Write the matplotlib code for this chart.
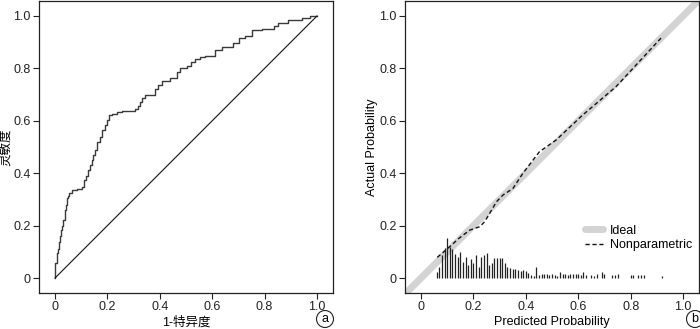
import numpy as np
import matplotlib
matplotlib.use("Agg")
import matplotlib.pyplot as plt

plt.rcParams['font.family'] = ['Liberation Sans', 'Noto Sans CJK SC', 'DejaVu Sans']
plt.rcParams['font.size'] = 9

# ROC curve corners (1 - specificity, sensitivity)
fpr = [0.000, 0.000, 0.006, 0.010, 0.015, 0.020, 0.023, 0.028, 0.032, 0.038,
       0.042, 0.045, 0.050, 0.054, 0.064, 0.083, 0.102, 0.110, 0.118, 0.127,
       0.134, 0.140, 0.147, 0.153, 0.160, 0.172, 0.180, 0.191, 0.200, 0.207,
       0.216, 0.235, 0.254, 0.305, 0.315, 0.324, 0.333, 0.343, 0.350, 0.382,
       0.395, 0.407, 0.439, 0.464, 0.477, 0.503, 0.520, 0.535, 0.555, 0.573,
       0.611, 0.637, 0.681, 0.704, 0.725, 0.751, 0.789, 0.834, 0.853, 0.891,
       0.942, 0.973, 1.000]
tpr = [0.000, 0.056, 0.094, 0.110, 0.139, 0.160, 0.183, 0.200, 0.221, 0.260,
       0.280, 0.304, 0.315, 0.323, 0.336, 0.338, 0.348, 0.374, 0.390, 0.412,
       0.431, 0.450, 0.470, 0.490, 0.520, 0.540, 0.565, 0.585, 0.603, 0.622,
       0.625, 0.635, 0.637, 0.645, 0.656, 0.670, 0.686, 0.698, 0.699, 0.720,
       0.737, 0.750, 0.762, 0.788, 0.801, 0.810, 0.826, 0.835, 0.845, 0.847,
       0.870, 0.883, 0.896, 0.917, 0.925, 0.946, 0.950, 0.963, 0.975, 0.984,
       0.993, 1.000, 1.000]

# calibration: nonparametric (loess) curve
pred = [0.062, 0.110, 0.144, 0.186, 0.224, 0.243, 0.262, 0.288, 0.313, 0.351,
        0.389, 0.452, 0.516, 0.617, 0.744, 0.921]
actual = [0.079, 0.120, 0.151, 0.183, 0.196, 0.215, 0.247, 0.291, 0.317, 0.342,
          0.400, 0.482, 0.527, 0.622, 0.730, 0.921]

# spike histogram of predicted probabilities
spike_x = [0.06, 0.07, 0.08, 0.09, 0.10, 0.11, 0.12, 0.13, 0.14, 0.15,
           0.16, 0.17, 0.18, 0.19, 0.20, 0.21, 0.22, 0.23, 0.24, 0.25,
           0.26, 0.27, 0.28, 0.29, 0.30, 0.31, 0.32, 0.33, 0.34, 0.35,
           0.36, 0.37, 0.38, 0.39, 0.40, 0.41, 0.42, 0.43, 0.44, 0.45,
           0.46, 0.47, 0.48, 0.49, 0.50, 0.51, 0.52, 0.53, 0.54, 0.55,
           0.56, 0.57, 0.58, 0.59, 0.60, 0.61, 0.62, 0.63, 0.65, 0.66,
           0.67, 0.69, 0.70, 0.73, 0.74, 0.75, 0.80, 0.81, 0.83, 0.84,
           0.85, 0.92]
spike_h = [0.024, 0.043, 0.088, 0.113, 0.151, 0.120, 0.109, 0.090, 0.081, 0.100,
           0.062, 0.081, 0.050, 0.071, 0.059, 0.088, 0.043, 0.081, 0.088, 0.094,
           0.050, 0.056, 0.075, 0.075, 0.075, 0.075, 0.056, 0.043, 0.037, 0.033,
           0.033, 0.031, 0.028, 0.031, 0.028, 0.020, 0.012, 0.008, 0.042, 0.010,
           0.015, 0.015, 0.017, 0.012, 0.017, 0.010, 0.008, 0.022, 0.017, 0.015,
           0.012, 0.017, 0.017, 0.017, 0.015, 0.010, 0.022, 0.012, 0.012, 0.008,
           0.017, 0.022, 0.015, 0.010, 0.010, 0.015, 0.010, 0.010, 0.010, 0.010,
           0.010, 0.008]

ticks = [0, 0.2, 0.4, 0.6, 0.8, 1.0]
tick_labels = ['0', '0.2', '0.4', '0.6', '0.8', '1.0']


def style_axes(ax):
    ax.set_xlim(-0.061, 1.061)
    ax.set_ylim(-0.057, 1.057)
    ax.set_xticks(ticks)
    ax.set_xticklabels(tick_labels)
    ax.set_yticks(ticks)
    ax.set_yticklabels(tick_labels)
    ax.tick_params(direction='out', length=4, width=0.8, colors='#222222', pad=2)
    for s in ax.spines.values():
        s.set_linewidth(0.9)
        s.set_color('#222222')


fig = plt.figure(figsize=(7, 3.29), dpi=100)
ax1 = fig.add_axes([0.0557, 0.1094, 0.42, 0.8875])
ax2 = fig.add_axes([0.5786, 0.1094, 0.42, 0.8875])

# (a) ROC
ax1.step(fpr, tpr, where='post', color='#3a3a3a', lw=1.0)
ax1.plot([0, 1], [0, 1], color='#111111', lw=0.8)
style_axes(ax1)
ax1.set_xlabel('1-特异度', labelpad=2)
ax1.set_ylabel('灵敏度', labelpad=1)

# (b) calibration
ax2.plot([-0.05, 1.06], [-0.05, 1.06], color='#d3d3d3', lw=5, solid_capstyle='round',
         label='Ideal')
ax2.plot(pred, actual, color='#111111', lw=1.0, ls=(0, (3, 2)), label='Nonparametric')
ax2.vlines(spike_x, 0, spike_h, color='#222222', lw=0.9)
style_axes(ax2)
ax2.set_xlabel('Predicted Probability', labelpad=2)
ax2.set_ylabel('Actual Probability', labelpad=1)
ax2.legend(loc='upper left', bbox_to_anchor=(0.59, 0.255), frameon=False,
           handlelength=1.5, handletextpad=0.55, labelspacing=0.2, borderpad=0,
           fontsize=9)

# panel tags
for x, tag in [(325 / 700, 'a'), (695 / 700, 'b')]:
    fig.text(x, 1 - 319 / 329, tag, ha='center', va='center', fontsize=9,
             bbox=dict(boxstyle='circle,pad=0.2', fc='white', ec='#222222', lw=0.8))

fig.savefig('out.png', dpi=100)
